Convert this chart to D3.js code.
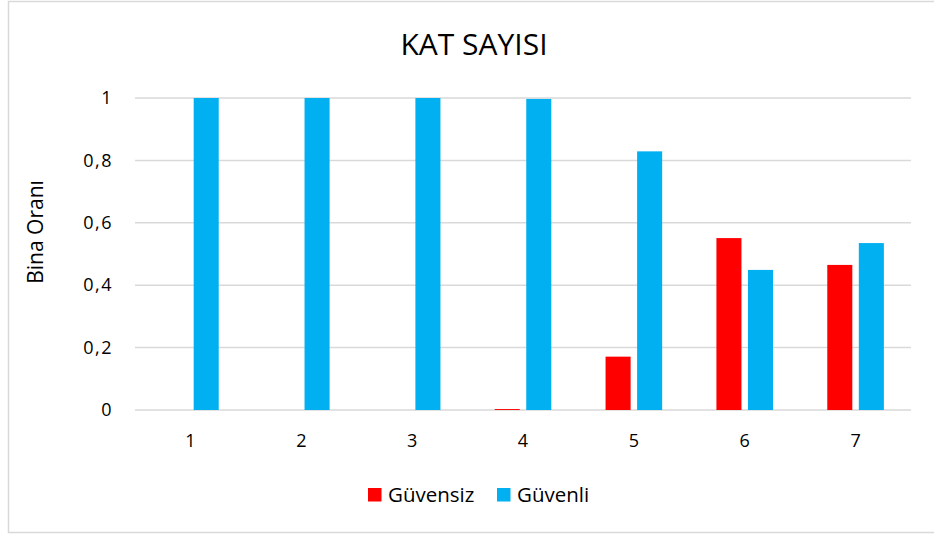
<!DOCTYPE html>
<html>
<head>
<meta charset="utf-8">
<script src="https://cdn.jsdelivr.net/npm/d3@7"></script>
<style>
  html, body { margin: 0; padding: 0; background: #fff; }
  svg text { font-family: "Open Sans", sans-serif; fill: #000; }
</style>
</head>
<body>
<svg id="chart" width="934" height="535"></svg>
<script>
// Kat sayısına göre bina oranları
const categories = ["1", "2", "3", "4", "5", "6", "7"];
const seriesNames = ["Güvensiz", "Güvenli"];
const guvensiz = [0, 0, 0, 0.003, 0.171, 0.551, 0.465];
const guvenli  = [1, 1, 1, 0.997, 0.829, 0.449, 0.535];
const yTicks = [0, 0.2, 0.4, 0.6, 0.8, 1];
const colors = ["#FF0000", "#00B0F0"];

const svg = d3.select("#chart");
const FONT = "'Open Sans', sans-serif";

// outer frame
svg.append("rect")
  .attr("x", 8.5).attr("y", 1.5)
  .attr("width", 940).attr("height", 531)
  .attr("fill", "#fff").attr("stroke", "#D9D9D9").attr("stroke-width", 1.5);

const plot = { left: 135, right: 911, top: 98, bottom: 410 };

const x = d3.scaleBand().domain(categories).range([plot.left, plot.right]).paddingInner(0).paddingOuter(0);
const xInner = d3.scaleBand().domain(seriesNames).range([0, x.bandwidth()]).paddingInner(0.206).paddingOuter(0.86);
const y = d3.scaleLinear().domain([0, 1]).range([plot.bottom, plot.top]);

// gridlines
svg.append("g").selectAll("line").data(yTicks).join("line")
  .attr("x1", plot.left).attr("x2", plot.right)
  .attr("y1", d => y(d)).attr("y2", d => y(d))
  .attr("stroke", "#D9D9D9").attr("stroke-width", 1.5);

// y axis labels
const yAxis = d3.axisLeft(y).tickValues(yTicks).tickSize(0).tickPadding(0)
  .tickFormat(d => String(d).replace(".", ","));
const gy = svg.append("g").attr("transform", `translate(${plot.left - 22},0)`).call(yAxis);
gy.select(".domain").remove();
gy.selectAll("text").attr("font-size", 18).attr("font-family", FONT).attr("fill", "#000")
  .attr("letter-spacing", 1.5);

// x axis labels
const xAxis = d3.axisBottom(x).tickSize(0).tickPadding(0);
const gx = svg.append("g").attr("transform", `translate(0,${plot.bottom + 24})`).call(xAxis);
gx.select(".domain").remove();
gx.selectAll("text").attr("font-size", 18).attr("font-family", FONT).attr("fill", "#000");

// bars
const rows = categories.map((c, i) => ({ cat: c, vals: [guvensiz[i], guvenli[i]] }));
const groups = svg.append("g").selectAll("g").data(rows).join("g")
  .attr("transform", d => `translate(${x(d.cat)},0)`);
groups.selectAll("rect")
  .data(d => d.vals.map((v, k) => ({ name: seriesNames[k], value: v, k })))
  .join("rect")
  .attr("x", d => xInner(d.name))
  .attr("width", xInner.bandwidth())
  .attr("y", d => y(d.value))
  .attr("height", d => y(0) - y(d.value))
  .attr("fill", d => colors[d.k]);

// title
svg.append("text")
  .attr("x", 474).attr("y", 55)
  .attr("text-anchor", "middle")
  .attr("font-size", 30)
  .text("KAT SAYISI");

// y axis title
svg.append("text")
  .attr("transform", `translate(43,232) rotate(-90)`)
  .attr("text-anchor", "middle")
  .attr("font-size", 21)
  .text("Bina Oranı");

// legend
const legend = svg.append("g").attr("transform", "translate(368,495)");
const legendX = [0, 129];
seriesNames.forEach((name, k) => {
  const g = legend.append("g").attr("transform", `translate(${legendX[k]},0)`);
  g.append("rect").attr("x", 0).attr("y", -7).attr("width", 13.5).attr("height", 13.5).attr("fill", colors[k]);
  g.append("text").attr("x", 20).attr("y", 7).attr("font-size", 20.5).text(name);
});
</script>
</body>
</html>
